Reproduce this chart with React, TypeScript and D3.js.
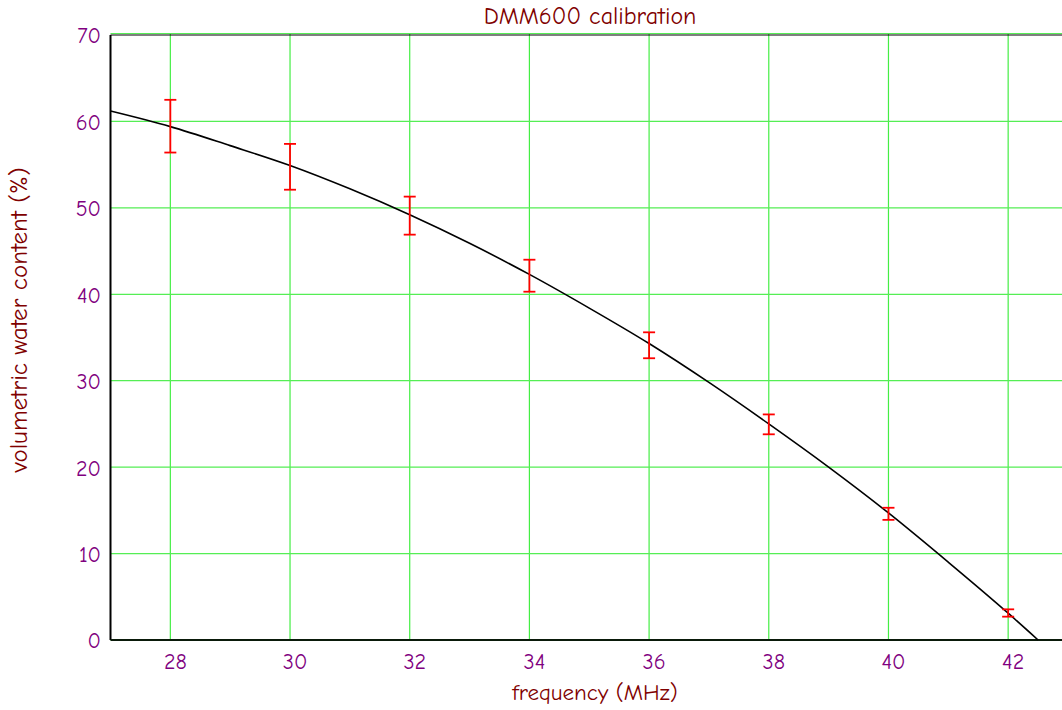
import React from "react";
import * as d3 from "d3";

const xTicks = [28, 30, 32, 34, 36, 38, 40, 42];
const yTicks = [0, 10, 20, 30, 40, 50, 60, 70];

const pointFreq = [28, 30, 32, 34, 36, 38, 40, 42];
const pointLow = [56.4, 52.1, 46.9, 40.3, 32.6, 23.8, 13.9, 2.7];
const pointHigh = [62.5, 57.4, 51.3, 44.0, 35.6, 26.1, 15.3, 3.55];

const curveFreq = [27, 28, 29, 30, 31, 32, 33, 34, 35, 36, 37, 38, 39, 40, 41, 42, 42.5];
const curveVwc = [61.2, 59.4, 57.2, 54.9, 52.2, 49.2, 45.9, 42.3, 38.4, 34.3, 29.8, 25.0, 20.0, 14.7, 9.0, 3.1, 0.0];

const W = 1062;
const H = 710;
const left = 110.5;
const top = 35;
const bottom = 640;

const font = "'Comic Sans MS', 'Comic Neue', Lato, 'DejaVu Sans', sans-serif";

export default function App() {
  const x = d3.scaleLinear().domain([27, 43]).range([left, 1068]);
  const y = d3.scaleLinear().domain([0, 70]).range([bottom, top]);
  const line = d3
    .line<number>()
    .x((_, i) => x(curveFreq[i]))
    .y((d) => y(d))
    .curve(d3.curveMonotoneX);
  const capW = 6;
  return (
    <svg width={W} height={H} style={{ position: "absolute", left: 0, top: 0, background: "#fff" }}>
      <g>
        {xTicks.map((t) => (
          <line key={"gx" + t} x1={x(t)} x2={x(t)} y1={top - 1.5} y2={bottom} stroke="#44ee44" strokeWidth={1.2} />
        ))}
        {yTicks.map((t) => (
          <line key={"gy" + t} x1={left} x2={W} y1={y(t) - (t === 70 ? 1.5 : 0)} y2={y(t) - (t === 70 ? 1.5 : 0)} stroke="#55ee55" strokeWidth={1.2} />
        ))}
      </g>
      <line x1={left} x2={W} y1={top} y2={top} stroke="#000" strokeWidth={1.2} />
      <line x1={left} x2={left} y1={top} y2={bottom} stroke="#000" strokeWidth={2} />
      <line x1={left} x2={W} y1={bottom} y2={bottom} stroke="#0a1a0a" strokeWidth={2} />
      <path d={line(curveVwc) || ""} fill="none" stroke="#000" strokeWidth={1.6} />
      {pointFreq.map((f, i) => (
        <g key={"e" + f} stroke="#ff0000" strokeWidth={1.8}>
          <line x1={x(f)} x2={x(f)} y1={y(pointHigh[i])} y2={y(pointLow[i])} />
          <line x1={x(f) - capW} x2={x(f) + capW} y1={y(pointHigh[i])} y2={y(pointHigh[i])} />
          <line x1={x(f) - capW} x2={x(f) + capW} y1={y(pointLow[i])} y2={y(pointLow[i])} />
        </g>
      ))}
      {yTicks.map((t) => (
        <text key={"ly" + t} x={101} y={y(t) + 3} textAnchor="end" dominantBaseline="middle" fill="#800080" fontSize={22} fontFamily={font}>
          {t}
        </text>
      ))}
      {xTicks.map((t) => (
        <text key={"lx" + t} x={x(t) + 5} y={664} textAnchor="middle" dominantBaseline="middle" fill="#800080" fontSize={22} fontFamily={font}>
          {t}
        </text>
      ))}
      <text x={590} y={18} textAnchor="middle" dominantBaseline="middle" fill="#800000" fontSize={24} fontFamily={font}>
        DMM600 calibration
      </text>
      <text x={595} y={694} textAnchor="middle" dominantBaseline="middle" fill="#800000" fontSize={23} fontFamily={font}>
        frequency (MHz)
      </text>
      <text transform={`translate(21,${320}) rotate(-90)`} textAnchor="middle" dominantBaseline="middle" fill="#800000" fontSize={25} fontFamily={font}>
        volumetric water content (%)
      </text>
    </svg>
  );
}
